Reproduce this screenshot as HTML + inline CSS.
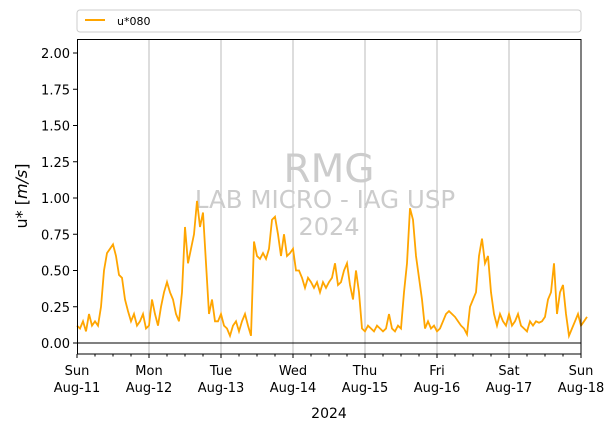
<!DOCTYPE html>
<html><head><meta charset="utf-8"><style>
body{margin:0;background:#fff}
svg text{font-family:"DejaVu Sans","Liberation Sans",sans-serif}
</style></head><body>
<svg id="c" width="615" height="431" xmlns="http://www.w3.org/2000/svg">
<rect x="77" y="10" width="504" height="22" rx="3" fill="#fff" stroke="#ccc"/>
<line x1="85" y1="20" x2="105" y2="20" stroke="#ffa500" stroke-width="2"/>
<text x="117" y="25" font-size="11" fill="#000">u*080</text>
<g id="grid"></g>
<text x="329" y="182" font-size="39" fill="#ccc" text-anchor="middle">RMG</text>
<text x="325" y="208" font-size="24.5" fill="#ccc" text-anchor="middle">LAB MICRO - IAG USP</text>
<text x="329" y="235" font-size="24" fill="#ccc" text-anchor="middle">2024</text>
<line x1="77" y1="343" x2="581" y2="343" stroke="#000" stroke-width="1"/>
<path id="series" fill="none" stroke="#ffa500" stroke-width="1.8"/>
<rect x="77.5" y="39.5" width="503.5" height="314.5" fill="none" stroke="#000"/>
<g id="axes"></g>
<text transform="translate(27,196) rotate(-90)" font-size="16" text-anchor="middle">u* [<tspan font-style="italic">m/s</tspan>]</text>
<text x="329" y="418" font-size="14" text-anchor="middle">2024</text>
</svg>
<script>
const values=[0.12,0.1,0.15,0.08,0.2,0.12,0.15,0.12,0.25,0.5,0.62,0.65,0.68,0.6,0.47,0.45,0.3,0.22,0.15,0.2,0.12,0.15,0.2,0.1,
0.12,0.3,0.2,0.12,0.25,0.35,0.42,0.35,0.3,0.2,0.15,0.35,0.8,0.55,0.65,0.75,0.98,0.8,0.9,0.55,0.2,0.3,0.15,0.15,0.2,0.12,
0.1,0.05,0.12,0.15,0.08,0.15,0.2,0.12,0.05,0.7,0.6,0.58,0.62,0.58,0.65,0.85,0.87,0.75,0.6,0.75,0.6,0.62,0.65,0.5,
0.5,0.45,0.38,0.45,0.42,0.38,0.42,0.35,0.42,0.38,0.42,0.45,0.55,0.4,0.42,0.5,0.55,0.4,0.3,0.5,0.35,0.1,0.08,0.12,
0.1,0.08,0.12,0.1,0.08,0.1,0.2,0.1,0.08,0.12,0.1,0.35,0.55,0.93,0.85,0.6,0.45,0.3,0.1,0.15,0.1,0.12,0.08,0.1,
0.15,0.2,0.22,0.2,0.18,0.15,0.12,0.1,0.06,0.25,0.3,0.35,0.6,0.72,0.55,0.6,0.35,0.2,0.12,0.2,0.15,0.12,0.2,0.12,
0.15,0.2,0.12,0.1,0.08,0.15,0.12,0.15,0.14,0.15,0.18,0.3,0.35,0.55,0.2,0.35,0.4,0.2,0.05,0.1,0.15,0.2,0.12,0.15,0.18];
const dayLabels=["Sun","Mon","Tue","Wed","Thu","Fri","Sat","Sun"];
const dateLabels=["Aug-11","Aug-12","Aug-13","Aug-14","Aug-15","Aug-16","Aug-17","Aug-18"];
const yTicks=[0,0.25,0.5,0.75,1,1.25,1.5,1.75,2];
const NS="http://www.w3.org/2000/svg";
const x=h=>77+h*(504/168);
const y=v=>343-v*145;
function mk(tag,attrs,parent){const e=document.createElementNS(NS,tag);for(const k in attrs)e.setAttribute(k,attrs[k]);parent.appendChild(e);return e;}
const grid=document.getElementById('grid'),axes=document.getElementById('axes');
dayLabels.forEach((d,i)=>{
 const px=x(i*24);
 if(i>0&&i<7){const g=mk('line',{x1:px,x2:px,y1:39,y2:354,stroke:'#bbb','stroke-width':1},grid);
 
 }
 const t=mk('line',{x1:px,x2:px,y1:354,y2:358,stroke:'#000'},axes);
 
 
 const l=mk('text',{x:px,y:375,'font-size':13,'text-anchor':'middle'},axes);
 
 
 const a=mk('tspan',{x:px},l);a.textContent=d;
 const b=mk('tspan',{x:px,dy:17},l);b.textContent=dateLabels[i];
 for(let h=6;h<24&&i<7;h+=6){const m=mk('line',{x1:x(i*24+h),x2:x(i*24+h),y1:354,y2:356.5,stroke:'#000'},axes);
 
 }
});
yTicks.forEach(v=>{
 const py=y(v);
 const t=mk('line',{x1:73,x2:77,y1:py,y2:py,stroke:'#000'},axes);
 
 
 const l=mk('text',{x:70,y:py+5,'font-size':13,'text-anchor':'end'},axes);
 
 
 l.textContent=v.toFixed(2);
});
document.getElementById('series').setAttribute('d',values.map((v,i)=>(i?'L':'M')+x(i).toFixed(1)+','+y(v).toFixed(1)).join(''));
</script>
</body></html>
